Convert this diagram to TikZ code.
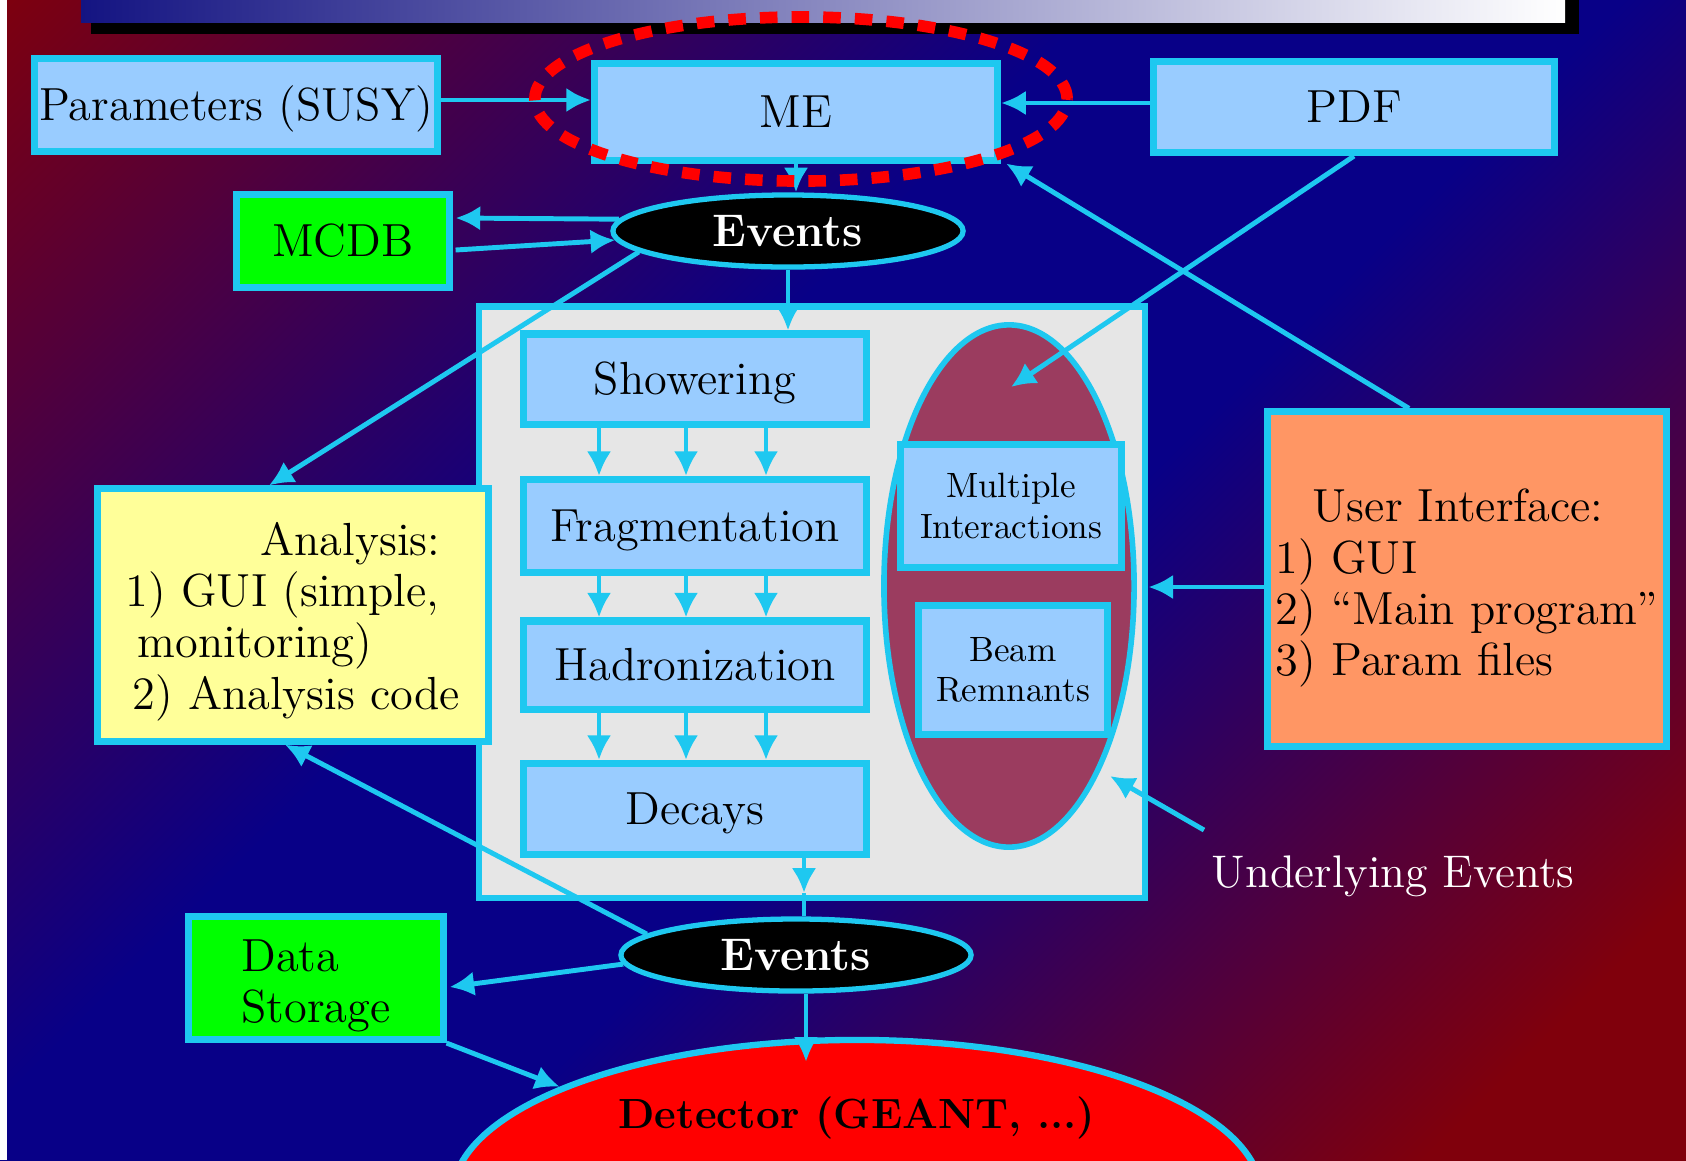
\documentclass[tikz,border=0pt]{standalone}
\usetikzlibrary{shapes.geometric,arrows.meta,calc}

\definecolor{bgred}{RGB}{128,0,12}
\definecolor{bgblue}{RGB}{8,0,135}
\definecolor{edge}{RGB}{30,200,240}
\definecolor{boxfill}{RGB}{153,204,255}
\definecolor{storegreen}{RGB}{0,255,0}
\definecolor{notefill}{RGB}{255,255,153}
\definecolor{uifill}{RGB}{255,150,100}
\definecolor{panelfill}{RGB}{230,230,230}
\definecolor{uefill}{RGB}{155,60,95}
\definecolor{titleblue}{RGB}{20,20,130}

% diagonal backdrop: red corners, blue band across the middle
\pgfdeclareverticalshading{backdrop}{100bp}{color(0bp)=(bgred); color(21bp)=(bgred);
  color(45bp)=(bgblue); color(58bp)=(bgblue); color(86bp)=(bgred); color(100bp)=(bgred)}

\begin{document}
\begin{tikzpicture}[x=0.01cm,y=-0.01cm,
  box/.style={draw=edge, line width=2pt, fill=boxfill, inner sep=0pt, align=center, text=black},
  bigfont/.style={font=\fontsize{13.2}{14.6}\selectfont},
  oneline/.style={text height=12pt, text depth=3pt},
  smallfont/.style={font=\fontsize{10}{11.4}\selectfont},
  evt/.style={ellipse, draw=edge, line width=1.5pt, fill=black, text=white,
    font=\fontsize{13}{15}\selectfont\bfseries, inner sep=0pt,
    minimum width=3.50cm, minimum height=0.72cm},
  arr/.style={draw=edge, line width=1.4pt, -{Latex[length=7pt,width=7pt]}},
  link/.style={draw=edge, line width=1.4pt},
]
% canvas and background
\useasboundingbox (0,0) rectangle (1686,1160);
\clip (0,0) rectangle (1686,1160);
\shade[shading=backdrop, shading angle=45] (0,0) rectangle (1686,1160);
\fill[white] (0,0) rectangle (7,1160);

% title bar with shadow
\fill[black] (91,0) rectangle (1579,34);
\shade[left color=titleblue, right color=white] (81,0) rectangle (1565,22);

% top row
\node[box,bigfont,oneline,minimum width=4.03cm,minimum height=0.92cm] (par) at (236,105) {Parameters (SUSY)};
\node[box,bigfont,oneline,minimum width=4.03cm,minimum height=0.96cm] (me) at (796,112) {ME};
\node[box,bigfont,oneline,minimum width=4.00cm,minimum height=0.91cm] (pdf) at (1354,107) {PDF};

% event record and database
\node[box,bigfont,oneline,fill=storegreen,minimum width=2.12cm,minimum height=0.93cm] (mcdb) at (343,241) {MCDB};
\node[evt] (ev1) at (788,231) {Events};

% generator panel
\node[draw=edge, line width=1.8pt, fill=panelfill, minimum width=6.66cm, minimum height=5.91cm, inner sep=0pt] (panel) at (812,602) {};
\node[box,bigfont,oneline,minimum width=3.42cm,minimum height=0.90cm] (show) at (695,379) {Showering};
\node[box,bigfont,oneline,minimum width=3.42cm,minimum height=0.93cm] (frag) at (695,526) {Fragmentation};
\node[box,bigfont,oneline,minimum width=3.42cm,minimum height=0.88cm] (had) at (695,665) {Hadronization};
\node[box,bigfont,oneline,minimum width=3.42cm,minimum height=0.91cm] (dec) at (695,809) {Decays};

% underlying event
\node[ellipse, draw=edge, line width=1.6pt, fill=uefill, minimum width=2.50cm, minimum height=5.22cm, inner sep=0pt] (ue) at (1009,586) {};
\node[box,smallfont,minimum width=2.20cm,minimum height=1.23cm] (mi) at (1011,506) {Multiple\\Interactions};
\node[box,smallfont,minimum width=1.88cm,minimum height=1.29cm] (br) at (1013,670) {Beam\\Remnants};

% side boxes
\node[box,bigfont,fill=uifill,minimum width=3.98cm,minimum height=3.34cm,align=left] (ui) at (1467,579)
  {\rule{0pt}{14.5pt}\hspace*{0.8em}User Interface:\\1) GUI\\2) ``Main program''\\3) Param files};
\node[box,bigfont,fill=notefill,minimum width=3.91cm,minimum height=2.52cm,align=left] (ana) at (293,615)
  {\rule{0pt}{13pt}\hspace*{2.9em}Analysis:\\1) GUI (simple,\\\hspace*{0.25em}monitoring)\\\hspace*{0.15em}2) Analysis code};

% output side
\node[evt] (ev2) at (796,955) {Events};
\node[box,bigfont,fill=storegreen,minimum width=2.54cm,minimum height=1.23cm,align=left] (ds) at (316,978)
  {\rule{0pt}{13.5pt}Data\\Storage};
\node[ellipse, draw=edge, line width=1.8pt, fill=red, minimum width=8.08cm, minimum height=3.10cm, inner sep=0pt] (det) at (857,1195) {};
\node[font=\fontsize{12}{14}\selectfont\bfseries, text=black] (detlabel) at (857,1118) {Detector (GEANT, ...)};
\node[font=\fontsize{13}{15}\selectfont, text=white] (ul) at (1393,876) {Underlying Events};

% connectors
\draw[arr] ([shift={(0,-5)}]par.east) -- ([shift={(0,-12)}]me.west);
\draw[arr] ([shift={(0,-4)}]pdf.west) -- ([shift={(0,-9)}]me.east);
\draw[arr] (me.south) -- (me.south |- ev1.north);
\draw[arr] (ev1.176) -- ([shift={(3,-23)}]mcdb.east);
\draw[arr] ([shift={(3,9)}]mcdb.east) -- (ev1.183);
\draw[arr] (ev1.south) -- (ev1.south |- show.north);
\draw[arr] (ev1.188) -- ([shift={(-24,0)}]ana.north);
\draw[arr] (pdf.south) -- ([shift={(2,-199)}]ue.center);
\draw[arr] ([shift={(-58,0)}]ui.north) -- ([shift={(5,0)}]me.south east);
\draw[arr] ([shift={(0,8)}]ui.west) -- ([shift={(0,-15)}]panel.east);
\foreach \dx in {-96,-9,71} {
  \draw[arr] ([shift={(\dx,0)}]show.south) -- ([shift={(\dx,0)}]frag.north);
  \draw[arr] ([shift={(\dx,0)}]frag.south) -- ([shift={(\dx,0)}]had.north);
  \draw[arr] ([shift={(\dx,0)}]had.south) -- ([shift={(\dx,0)}]dec.north);
}
\coordinate (decout) at ([shift={(109,-8)}]dec.south |- panel.south);
\draw[arr] ([shift={(109,0)}]dec.south) -- (decout);
\draw[link] (decout) -- (decout |- ev2.north);
\draw[arr] (ev2.172) -- ([shift={(-8,0)}]ana.south);
\draw[arr] (ev2.183) -- ([shift={(3,9)}]ds.east);
\draw[arr] (ds.south east) -- (det.160);
\draw[arr] ([shift={(10,0)}]ev2.south) -- ([shift={(10,25)}]ev2.south |- det.north);
\draw[arr] ([shift={(-189,-13)}]ul.north) -- ([shift={(101,190)}]ue.center);

% highlight around the matrix element
\node[ellipse, draw=red, line width=3.3pt, dash pattern=on 5pt off 4pt,
  minimum width=5.32cm, minimum height=1.64cm, inner sep=0pt] (focus) at (801,99) {};
\end{tikzpicture}
\end{document}
